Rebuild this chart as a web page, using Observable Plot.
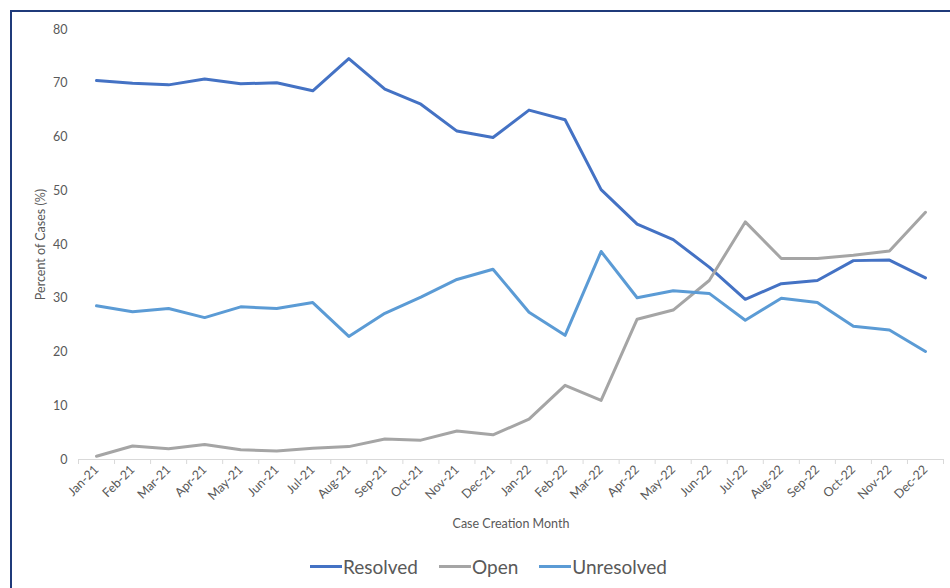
<!DOCTYPE html>
<html>
<head>
<meta charset="utf-8">
<script src="https://cdn.jsdelivr.net/npm/d3@7"></script>
<script src="https://cdn.jsdelivr.net/npm/@observablehq/plot@0.6"></script>
<style>
  html, body { margin: 0; padding: 0; background: #fff; overflow: hidden; }
  #wrap { position: relative; width: 950px; height: 588px; overflow: hidden; font-family: Lato, "Open Sans", sans-serif; }
  #frame { position: absolute; left: 10px; top: 10px; width: 1000px; height: 700px;
           border-left: 2px solid #1f3a7a; border-top: 2px solid #1f3a7a; box-sizing: border-box; }
  #chart { position: absolute; left: 0; top: 0; }
  #legend { position: absolute; top: 555px; left: 310px; display: flex; align-items: center;
            font-size: 19px; color: #595959; }
  #legend .item { display: flex; align-items: center; margin-right: 21px; }
  #legend .swatch { display: inline-block; width: 32px; height: 3px; margin-right: 1px; }
</style>
</head>
<body>
<div id="wrap">
  <div id="frame"></div>
  <div id="chart"></div>
  <div id="legend"></div>
</div>
<script>
// Case creation months (x categories)
const months = [
  "Jan-21", "Feb-21", "Mar-21", "Apr-21", "May-21", "Jun-21",
  "Jul-21", "Aug-21", "Sep-21", "Oct-21", "Nov-21", "Dec-21",
  "Jan-22", "Feb-22", "Mar-22", "Apr-22", "May-22", "Jun-22",
  "Jul-22", "Aug-22", "Sep-22", "Oct-22", "Nov-22", "Dec-22"
];

// Percent of cases by status
const resolved = [70.5, 70.0, 69.7, 70.8, 69.9, 70.1, 68.6, 74.6, 68.9, 66.1, 61.1, 59.9,
                  65.0, 63.2, 50.2, 43.8, 40.9, 35.8, 29.8, 32.7, 33.3, 37.0, 37.1, 33.8];
const open = [0.6, 2.5, 2.0, 2.8, 1.8, 1.6, 2.1, 2.4, 3.8, 3.6, 5.3, 4.6,
              7.5, 13.8, 11.0, 26.1, 27.8, 33.3, 44.2, 37.4, 37.4, 38.0, 38.8, 46.0];
const unresolved = [28.6, 27.5, 28.1, 26.4, 28.4, 28.1, 29.2, 22.9, 27.2, 30.2, 33.5, 35.4,
                    27.4, 23.1, 38.7, 30.1, 31.4, 30.9, 25.9, 30.0, 29.2, 24.8, 24.1, 20.1];

// Series names and colours
const seriesNames = ["Resolved", "Open", "Unresolved"];
const seriesColors = ["#4472c4", "#a5a5a5", "#5b9bd5"];

// Y axis tick values
const yTicks = [0, 10, 20, 30, 40, 50, 60, 70, 80];

const seriesValues = [resolved, open, unresolved];
const rows = seriesNames.flatMap((name, s) =>
  seriesValues[s].map((v, i) => ({ i, month: months[i], value: v, series: name }))
);

// Category boundaries, where the small tick marks sit
const boundaries = d3.range(months.length + 1).map(i => i - 0.5);

const chart = Plot.plot({
  width: 950,
  height: 588,
  marginTop: 29,
  marginBottom: 129,
  marginLeft: 78,
  marginRight: 7,
  style: { fontFamily: "Lato, 'Open Sans', sans-serif", fontSize: "12px", color: "#595959", background: "transparent" },
  x: { type: "linear", domain: [-0.5, months.length - 0.5] },
  y: { domain: [0, 80] },
  color: { domain: seriesNames, range: seriesColors },
  marks: [
    Plot.axisY(yTicks, { tickSize: 0, tickPadding: 11, label: "Percent of Cases (%)", labelAnchor: "center", labelArrow: "none", labelOffset: 42, fontSize: 12.5 }),
    Plot.ruleY([0], { stroke: "#d9d9d9", strokeWidth: 1.2 }),
    Plot.axisX(boundaries, { tickSize: 5, stroke: "#d9d9d9", fill: "none", label: null }),
    Plot.axisX(d3.range(months.length), {
      tickSize: 0, tickRotate: -45, tickPadding: 8,
      tickFormat: i => months[i], fontSize: 12.5,
      label: "Case Creation Month", labelAnchor: "center", labelArrow: "none", labelOffset: 68
    }),
    Plot.line(rows, { x: "i", y: "value", z: "series", stroke: "series", strokeWidth: 3, strokeLinejoin: "round" })
  ]
});
document.getElementById("chart").appendChild(chart);

// Legend below the plot
const legend = document.getElementById("legend");
seriesNames.forEach((name, s) => {
  const item = document.createElement("div");
  item.className = "item";
  const sw = document.createElement("span");
  sw.className = "swatch";
  sw.style.background = seriesColors[s];
  const label = document.createElement("span");
  label.textContent = name;
  item.appendChild(sw);
  item.appendChild(label);
  legend.appendChild(item);
});
</script>
</body>
</html>
